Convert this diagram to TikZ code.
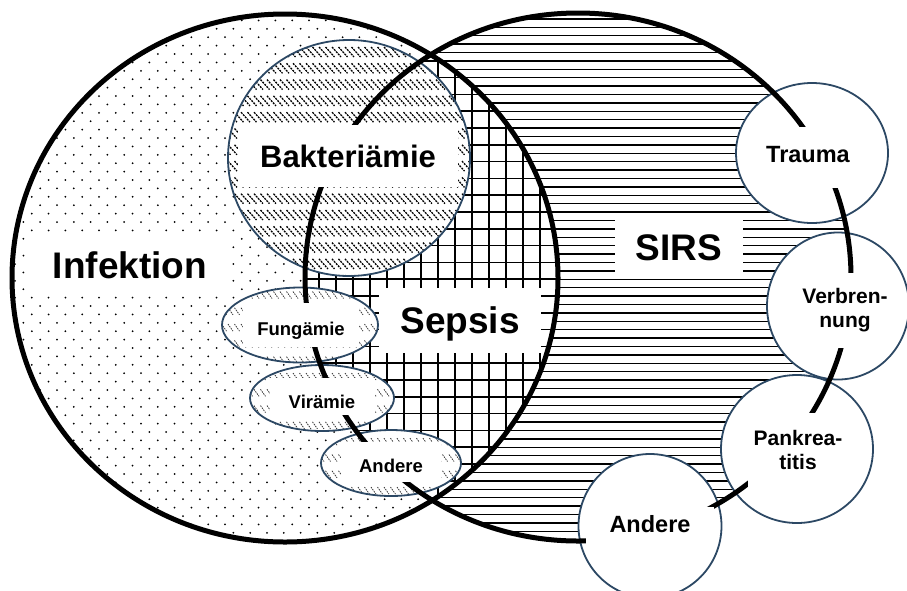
\documentclass[tikz,border=0pt]{standalone}
\usepackage{fontspec}
\setmainfont{Liberation Sans}
\usetikzlibrary{positioning,shapes.geometric}

\definecolor{rimblue}{RGB}{44,72,100}

\newcommand{\fsz}[2]{\fontsize{#1}{#2}\selectfont\bfseries}
% hatched subset: centre, x radius, y radius, first row, last row, stroke style, stroke
\newcommand{\hatchset}[7]{%
  \begin{scope}
    \clip (#1) ellipse [x radius=#2, y radius=#3];
    \fill[white] (0,0) rectangle (907,590);
    \foreach \j in {#4,...,#5}
      \foreach \i in {0,...,40}
        \draw[#6] ({215+6.5*\i},{47+16.3*\j}) -- ++(#7);
  \end{scope}
  \draw[rim] (#1) ellipse [x radius=#2, y radius=#3];}

\tikzset{
  bigset/.style={line width=5pt},
  rim/.style={draw=rimblue, line width=1.8pt},
  cause/.style={ellipse, rim, fill=white, inner sep=0pt},
  bakthatch/.style={line width=1.3pt, dash pattern=on 2pt off 1pt},
  thinhatch/.style={line width=0.8pt, black!80, dash pattern=on 1.5pt off 1pt},
  sirsline/.style={line width=1.4pt},
  tag/.style={fill=white, inner sep=0pt, anchor=base},
  tagtwo/.style={fill=white, inner sep=0pt, align=center, font=\fsz{21}{24}}
}

\begin{document}
\begin{tikzpicture}[x=1pt, y=-1pt]
  \useasboundingbox (0,0) rectangle (907,590);
  \coordinate (inf) at (285,278);
  \coordinate (sirs) at (578,277);
  \coordinate (bakt) at (349,158);
  \coordinate (fung) at (300,325);
  \coordinate (vir) at (322,398);
  \coordinate (andsm) at (391,463);

  \begin{scope}
    \clip (inf) ellipse [x radius=273, y radius=264];
    \foreach \r in {0,...,63}
      \foreach \c in {0,...,33}
        \fill ({15+16.8*\c+8.4*mod(\r,2)},{12+8.4*\r}) circle (1);
  \end{scope}

  \begin{scope}
    \clip (sirs) ellipse [x radius=273, y radius=264];
    \foreach \k in {-3,...,59}
      \draw[sirsline] (300,{44+8.4*\k}) -- (860,{44+8.4*\k});
  \end{scope}

  \begin{scope}
    \clip (inf) ellipse [x radius=273, y radius=264];
    \clip (sirs) ellipse [x radius=273, y radius=264];
    \fill[white] (0,0) rectangle (907,590);
    \foreach \k in {-1,...,29}
      \draw[line width=1.6pt] (300,{44+16.8*\k}) -- (565,{44+16.8*\k});
    \foreach \k in {-9,...,6}
      \draw[line width=2pt] ({455+17*\k},0) -- ({455+17*\k},590);
  \end{scope}

  \hatchset{bakt}{121}{118}{0}{14}{bakthatch}{9,10}
  \hatchset{fung}{78}{37.5}{15}{19}{thinhatch}{5,7}
  \hatchset{vir}{72}{33}{19}{24}{thinhatch}{5,7}
  \hatchset{andsm}{70}{33}{23}{28}{thinhatch}{5,7}

  \node[cause, minimum width=152pt, minimum height=140pt] (trauma) at (812,153) {};
  \node[cause, minimum width=142pt, minimum height=147pt] (verbr) at (838,306) {};
  \node[cause, minimum width=152pt, minimum height=148pt] (pankr) at (797,449) {};
  \node[cause, minimum width=143pt, minimum height=144pt] (andere) at (650,526) {};

  \draw[bigset] (inf) ellipse [x radius=273, y radius=264];
  \draw[bigset] (sirs) ellipse [x radius=273, y radius=264];

  \node[tag, font=\fsz{37}{40}, text height=45pt, text depth=15pt, minimum width=200pt] (infektion) at (130,278) {Infektion};
  \node[tag, font=\fsz{37}{40}, text height=45pt, text depth=20pt, minimum width=162pt] (sepsis) at (460,333) {Sepsis};
  \node[tag, font=\fsz{37}{40}, text height=40pt, text depth=13pt, minimum width=128pt] (sirs-lbl) at (679,260) {SIRS};
  \node[tag, font=\fsz{31}{34}, text height=42pt, text depth=20pt, minimum width=220pt] (bakt-lbl) at (348,167) {Bakteriämie};
  \node[tag, font=\fsz{18.5}{21}, text height=32pt, text depth=12pt, minimum width=116pt] (fung-lbl) at (301,335) {Fungämie};
  \node[tag, font=\fsz{18.5}{21}, text height=30pt, text depth=7pt, minimum width=105pt] (vir-lbl) at (322,408) {Virämie};
  \node[tag, font=\fsz{18.5}{21}, text height=30pt, text depth=10pt, minimum width=100pt] (andsm-lbl) at (391,472) {Andere};
  \node[tag, font=\fsz{23.5}{26}, text height=35pt, text depth=26pt, minimum width=120pt] (trauma-lbl) at (808,162) {Trauma};
  \node[tag, font=\fsz{23.5}{26}, text height=25pt, text depth=13pt, minimum width=128pt] (andere-lbl) at (650,532) {Andere};
  \node[tagtwo, minimum height=75pt, minimum width=100pt] (verbr-lbl) at (845,310.5) {Verbren-\\nung};
  \node[tagtwo, minimum height=74pt, minimum width=100pt] (pankr-lbl) at (798,450) {Pankrea-\\titis};
\end{tikzpicture}
\end{document}
